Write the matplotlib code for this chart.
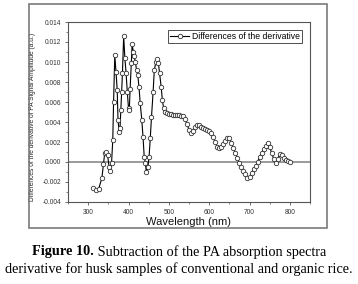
import matplotlib
matplotlib.use("Agg")
import matplotlib.pyplot as plt
from matplotlib.patches import Rectangle
from matplotlib.ticker import MultipleLocator, FormatStrFormatter

wavelength = [311, 319, 326, 334, 338, 341, 344, 348, 352, 355, 358, 361, 363, 366, 369,
              372, 374, 377, 379, 381, 383, 385, 388, 391, 394, 397, 400, 402, 404, 407,
              409, 412, 414, 417, 420, 423, 426, 429, 433, 436, 439, 442, 444, 448, 451,
              454, 457, 461, 464, 468, 471, 474, 477, 481, 484, 487, 491,
              495, 500, 505, 510, 515, 520, 525, 530, 535, 540, 545, 550, 555, 560, 565,
              570, 575, 580, 585, 590, 595, 600, 605, 610, 615, 620, 625, 630, 635, 640,
              645, 650, 655, 660, 665, 670, 675, 680, 685, 690, 695, 700, 705, 710, 715,
              720, 725, 730, 735, 740, 745, 750, 755, 760, 765, 770, 775, 780, 785, 790,
              795, 800]
difference = [-0.0026, -0.0028, -0.0027, -0.0016, -0.0002, 0.0009, 0.0010, 0.0007, -0.0005,
              -0.0009, -0.0001, 0.0022, 0.0060, 0.0107, 0.0090, 0.0072, 0.0042, 0.0030,
              0.0034, 0.0052, 0.0070, 0.0089, 0.0126, 0.0104, 0.0089, 0.0070, 0.0054,
              0.0052, 0.0073, 0.0099, 0.0118, 0.0110, 0.0106, 0.0100, 0.0092, 0.0087,
              0.0075, 0.0059, 0.0042, 0.0025, 0.0005, -0.0001, -0.0010, -0.0005, 0.0005,
              0.0024, 0.0045, 0.0070, 0.0092, 0.0100, 0.0103, 0.0099, 0.0089, 0.0075,
              0.0062, 0.0054, 0.0050,
              0.0049, 0.0048, 0.0048, 0.0047, 0.0047, 0.0047, 0.0047, 0.0046, 0.0046,
              0.0043, 0.0038, 0.0032, 0.0029, 0.0031, 0.0035, 0.0037, 0.0037, 0.0035,
              0.0034, 0.0033, 0.0032, 0.0031, 0.0029, 0.0025, 0.0020, 0.0015, 0.0014,
              0.0015, 0.0018, 0.0021, 0.0024, 0.0024, 0.0019, 0.0014, 0.0009, 0.0004,
              -0.0001, -0.0005, -0.0009, -0.0012, -0.0016, -0.0015, -0.0011, -0.0007,
              -0.0004, 0.0000, 0.0005, 0.0009, 0.0013, 0.0016, 0.0019, 0.0015, 0.0009,
              0.0003, -0.0001, 0.0003, 0.0008, 0.0007, 0.0004, 0.0002, 0.0001, 0.0000]

series_label = "Differences of the derivative"
x_label = "Wavelength (nm)"
y_label = "Differences of the derivative of PA Signal Amplitude (a.u.)"
caption_bold = "Figure 10."
caption_rest = " Subtraction of the PA absorption spectra"
caption_line2 = "derivative for husk samples of conventional and organic rice."

W, H = 358, 284
fig = plt.figure(figsize=(W / 100, H / 100), dpi=100)
fig.patch.set_facecolor("white")

# outer frame
fig.patches.append(Rectangle((29 / W, 1 - 228 / H), 298 / W, 224 / H,
                             transform=fig.transFigure, fill=False,
                             edgecolor="#7a7a7a", linewidth=1.2))

ax = fig.add_axes([68 / W, 1 - 202 / H, 242 / W, 180 / H])
ax.axhline(0, color="#9a9a9a", linewidth=1.4, zorder=1)
ax.plot(wavelength, difference, color="black", linewidth=0.8, marker="o",
        markersize=3.2, markerfacecolor="white", markeredgecolor="#333333",
        markeredgewidth=0.6, label=series_label, zorder=3)

ax.set_xlim(250, 850)
ax.set_ylim(-0.004, 0.014)
ax.xaxis.set_major_locator(MultipleLocator(100))
ax.xaxis.set_minor_locator(MultipleLocator(50))
ax.yaxis.set_major_locator(MultipleLocator(0.002))
ax.yaxis.set_minor_locator(MultipleLocator(0.001))
ax.yaxis.set_major_formatter(FormatStrFormatter("%.3f"))
ax.xaxis.set_major_formatter(FormatStrFormatter("%d"))

for sp in ax.spines.values():
    sp.set_color("#555555")
    sp.set_linewidth(0.8)
ax.tick_params(which="major", direction="out", length=2.5, width=0.6,
               color="#555555", labelsize=4.8, labelcolor="#333333", pad=2.5)
ax.tick_params(which="minor", direction="out", length=1.5, width=0.5, color="#555555")
for lbl in ax.get_xticklabels() + ax.get_yticklabels():
    lbl.set_fontfamily("Liberation Sans")

ax.set_xlabel(x_label, fontsize=8, family="Liberation Sans", color="#111111")
ax.xaxis.set_label_coords(0.5, -0.085)
ax.set_ylabel(y_label, fontsize=4.8, family="Liberation Sans", color="#222222")
ax.yaxis.set_label_coords(-0.132, 0.475)

leg = ax.legend(loc="upper right", bbox_to_anchor=(0.967, 0.956),
                prop={"family": "Liberation Sans", "size": 6.2},
                frameon=True, fancybox=False, borderaxespad=0, borderpad=0.25,
                handlelength=2.2, handletextpad=0.3)
leg.get_frame().set_edgecolor("#222222")
leg.get_frame().set_linewidth(0.7)

# caption
fig.canvas.draw()
r = fig.canvas.get_renderer()
t1 = fig.text(0, 1 - 251.7 / H, caption_bold, fontsize=10.3, family="Liberation Serif",
              weight="bold", va="center", ha="left")
t2 = fig.text(0, 1 - 251.7 / H, caption_rest, fontsize=10.3, family="Liberation Serif",
              va="center", ha="left")
w1 = t1.get_window_extent(r).width
w2 = t2.get_window_extent(r).width
start = (W - (w1 + w2)) / 2
t1.set_x(start / W)
t2.set_x((start + w1) / W)
fig.text(0.5, 1 - 269 / H, caption_line2, fontsize=10.3, family="Liberation Serif",
         va="center", ha="center")

fig.savefig("out.png", dpi=100, facecolor="white")
